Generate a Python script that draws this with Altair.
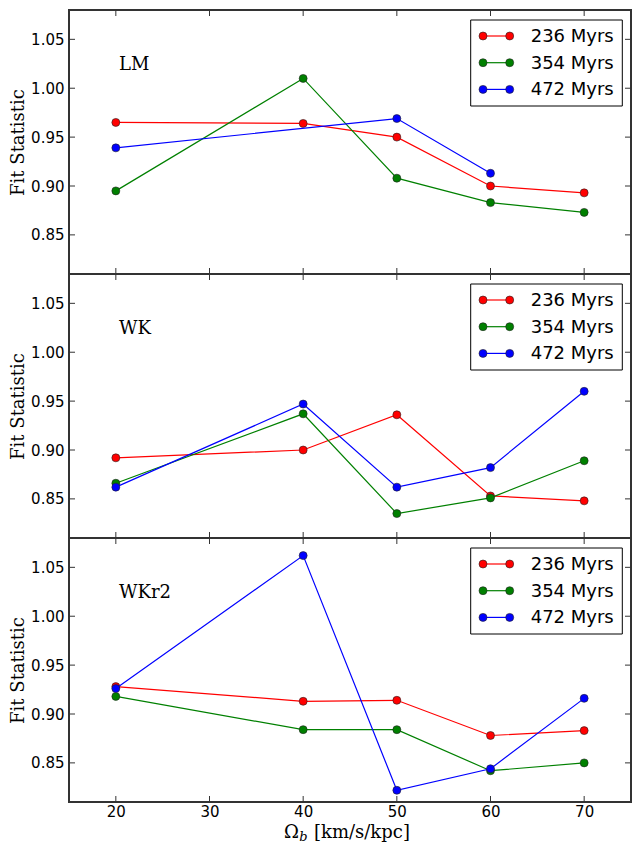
import altair as alt
import pandas as pd

# ---------------- data ----------------
omega = [20, 40, 50, 60, 70]
series = ["236 Myrs", "354 Myrs", "472 Myrs"]
colors = ["#ff0000", "#008000", "#0000ff"]
panels = ["LM", "WK", "WKr2"]

lm_236 = [0.965, 0.964, 0.950, 0.900, 0.893]
lm_354 = [0.895, 1.010, 0.908, 0.883, 0.873]
lm_472 = [0.939, None, 0.969, 0.913, None]

wk_236 = [0.892, 0.900, 0.936, 0.853, 0.848]
wk_354 = [0.866, 0.937, 0.835, 0.851, 0.889]
wk_472 = [0.862, 0.947, 0.862, 0.882, 0.960]

wkr2_236 = [0.928, 0.913, 0.914, 0.878, 0.883]
wkr2_354 = [0.918, 0.884, 0.884, 0.842, 0.850]
wkr2_472 = [0.926, 1.062, 0.822, 0.844, 0.916]

x_ticks = [20, 30, 40, 50, 60, 70]
y_ticks = [0.85, 0.90, 0.95, 1.00, 1.05]
x_domain = [15, 75]
y_domain = [0.81, 1.08]

table = {
    "LM": [lm_236, lm_354, lm_472],
    "WK": [wk_236, wk_354, wk_472],
    "WKr2": [wkr2_236, wkr2_354, wkr2_472],
}

rows = []
for p in panels:
    for s, vals in zip(series, table[p]):
        for o, v in zip(omega, vals):
            if v is not None:
                rows.append({"panel": p, "series": s, "omega": o, "value": v})
df = pd.DataFrame(rows)

yt = pd.DataFrame({"v": y_ticks})
xt = pd.DataFrame({"v": x_ticks})
one = pd.DataFrame({"k": [0]})

# ---------------- layout ----------------
W, H = 562, 264
TL = 6  # inward tick length
xs = alt.Scale(domain=x_domain, nice=False, zero=False)
ys = alt.Scale(domain=y_domain, nice=False, zero=False)

SANS = "DejaVu Sans"
SERIF = "DejaVu Serif"
FRAME = "#333333"

# legend geometry (relative to plot area, anchored at the right edge)
LB_R = W - 8.7
LB_L = LB_R - 151.6
C1 = LB_L + 12.3
C2 = C1 + 26.7
LT = LB_L + 60


def panel(name, bottom):
    d = df[df.panel == name]
    if bottom:
        x_axis = alt.Axis(values=x_ticks, ticks=False, tickSize=0, domain=False,
                          grid=False, labelFont=SANS, labelFontSize=15,
                          labelColor="#000", labelPadding=2, title=None)
    else:
        x_axis = None
    y_axis = alt.Axis(values=y_ticks, format=".2f", ticks=False, tickSize=0,
                      domain=False, grid=False, labelFont=SANS, labelFontSize=15,
                      labelColor="#000", labelPadding=5, title="Fit Statistic",
                      titleFont=SERIF, titleFontSize=18, titleFontWeight="normal",
                      titleColor="#000", titlePadding=3)

    layers = []
    # series
    for s, c in zip(series, colors):
        sd = d[d.series == s]
        base = alt.Chart(sd).encode(
            x=alt.X("omega:Q", scale=xs, axis=x_axis),
            y=alt.Y("value:Q", scale=ys, axis=y_axis),
        )
        layers.append(base.mark_line(color=c, strokeWidth=1.2))
        layers.append(base.mark_point(filled=True, shape="circle", size=64,
                                      fill=c, stroke="#222", strokeWidth=0.6,
                                      opacity=1))
    # inward ticks on all four sides
    for x0, x1 in ((0, TL), (W - TL, W)):
        layers.append(
            alt.Chart(yt).mark_rule(color=FRAME, strokeWidth=1)
            .encode(y=alt.Y("v:Q", scale=ys, axis=y_axis),
                    x=alt.value(x0), x2=alt.value(x1))
        )
    for y0, y1 in ((0, TL), (H - TL, H)):
        layers.append(
            alt.Chart(xt).mark_rule(color=FRAME, strokeWidth=1)
            .encode(x=alt.X("v:Q", scale=xs, axis=x_axis),
                    y=alt.value(y0), y2=alt.value(y1))
        )
    # panel label
    layers.append(
        alt.Chart(one).mark_text(text=name, font=SERIF, fontSize=18,
                                 align="left", baseline="alphabetic", color="#000")
        .encode(x=alt.value(50), y=alt.value(60))
    )
    # legend box
    layers.append(
        alt.Chart(one).mark_rect(fill="white", stroke="#000", strokeWidth=1)
        .encode(x=alt.value(LB_L), x2=alt.value(LB_R),
                y=alt.value(10), y2=alt.value(96))
    )
    for i, (s, c) in enumerate(zip(series, colors)):
        ry = 26 + i * 26.7
        layers.append(
            alt.Chart(one).mark_rule(color=c, strokeWidth=1.2)
            .encode(x=alt.value(C1), x2=alt.value(C2), y=alt.value(ry))
        )
        for cx in (C1, C2):
            layers.append(
                alt.Chart(one).mark_point(filled=True, shape="circle", size=64,
                                          fill=c, stroke="#222", strokeWidth=0.6,
                                          opacity=1)
                .encode(x=alt.value(cx), y=alt.value(ry))
            )
        layers.append(
            alt.Chart(one).mark_text(text=s, font=SANS, fontSize=18, align="left",
                                     baseline="middle", color="#000")
            .encode(x=alt.value(LT), y=alt.value(ry + 1))
        )
    if bottom:
        cx = W / 2
        layers.append(
            alt.Chart(one).mark_text(text="Ω", font=SERIF, fontSize=18,
                                     align="right", baseline="alphabetic", color="#000")
            .encode(x=alt.value(cx - 51), y=alt.value(H + 36))
        )
        layers.append(
            alt.Chart(one).mark_text(text="b", font=SERIF, fontSize=13,
                                     fontStyle="italic", align="left",
                                     baseline="alphabetic", color="#000")
            .encode(x=alt.value(cx - 50.7), y=alt.value(H + 39))
        )
        layers.append(
            alt.Chart(one).mark_text(text="[km/s/kpc]", font=SERIF, fontSize=18,
                                     align="left", baseline="alphabetic", color="#000")
            .encode(x=alt.value(cx - 36), y=alt.value(H + 36))
        )
    return alt.layer(*layers).properties(width=W, height=H)


chart = (
    alt.vconcat(panel("LM", False), panel("WK", False), panel("WKr2", True),
                spacing=0, bounds="flush")
    .properties(padding={"left": 0, "top": 0, "right": 0, "bottom": 0},
                background="white")
    .configure_view(stroke=FRAME, strokeWidth=2)
)

chart.save("out.html", embed_options={"renderer": "svg", "actions": False})
